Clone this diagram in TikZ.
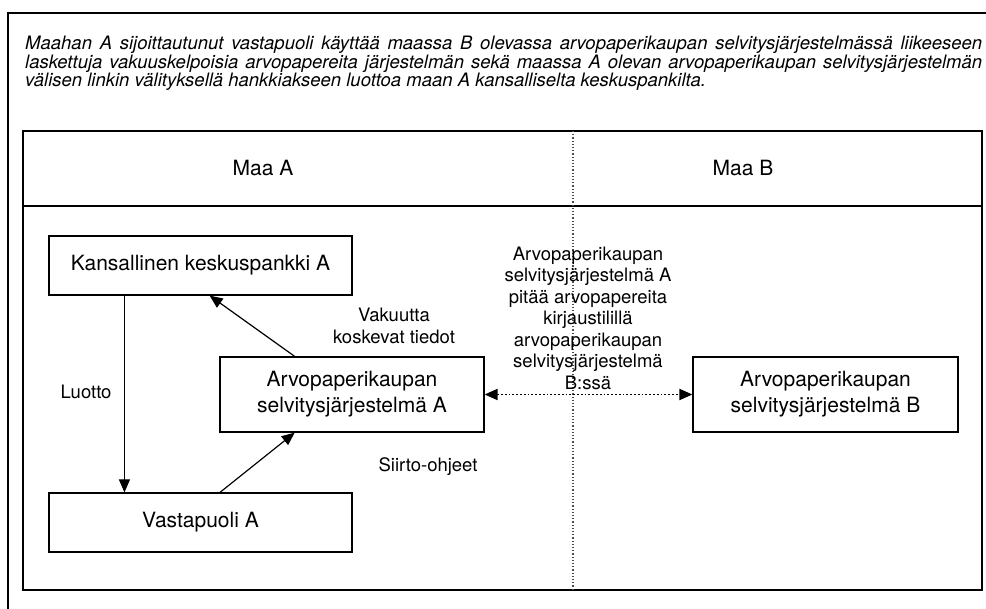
\documentclass[tikz,border=0pt]{standalone}
\usepackage{fontspec}
\setmainfont{TeX Gyre Heros}
\usetikzlibrary{arrows.meta,calc}

\tikzstyle{frameline}=[line width=1.2]
\tikzstyle{box}=[draw, line width=1.2, align=center, inner sep=0, font=\fontsize{21}{26}\selectfont]
\tikzstyle{note}=[align=center, inner sep=0, font=\fontsize{18.5}{21.5}\selectfont]
\tikzstyle{arrowline}=[line width=1.2, -{Triangle[length=13,width=11]}]
\tikzstyle{linkline}=[line width=1.8, dotted, {Triangle[length=13,width=11]}-{Triangle[length=13,width=11]}]
\newcommand{\drawcountries}{
  \draw[frameline] (23,131) rectangle (982,590);
  \draw[frameline] (23,206) -- (982,206);
  \coordinate (bordertop) at (573,131);
  \coordinate (borderbot) at (573,590);
  \draw[line width=1.2, dotted, black!70] (bordertop) -- (borderbot);
  \node[font=\fontsize{21}{26}\selectfont] (maaA) at (263,168) {Maa A};
  \node[font=\fontsize{21}{26}\selectfont] (maaB) at (743,168) {Maa B};
}

\begin{document}
\begin{tikzpicture}[x=1pt, y=-1pt]
  \useasboundingbox (0,0) rectangle (986,609);
  % outer frame and caption
  \draw[frameline] (8,609) -- (8,13) -- (986,13);
  \node[anchor=north west, text width=957, align=justify, inner sep=0, font=\fontsize{18.5}{17.5}\selectfont\itshape] (intro) at (25,36)
    {Maahan A sijoittautunut vastapuoli käyttää maassa B olevassa arvopaperikaupan selvitysjärjestelmässä liikeeseen\linebreak
     laskettuja vakuuskelpoisia arvopapereita järjestelmän sekä maassa A olevan arvopaperikaupan selvitysjärjestelmän\linebreak
     välisen linkin välityksellä hankkiakseen luottoa maan A kansalliselta keskuspankilta.};
  \drawcountries
  \node[box, minimum width=303, minimum height=59] (bank) at (200.5,265.5) {Kansallinen keskuspankki A};
  \node[box, minimum width=303, minimum height=59] (party) at (200.5,522.5) {Vastapuoli A};
  \node[box, minimum width=264, minimum height=75] (sysA) at (352,394.5) {Arvopaperikaupan\\selvitysjärjestelmä A};
  \node[box, minimum width=265, minimum height=75] (sysB) at (825.5,394.5) {Arvopaperikaupan\\selvitysjärjestelmä B};
  \draw[arrowline] ($(bank.south west)!0.25!(bank.south east)$) -- ($(party.north west)!0.25!(party.north east)$);
  \draw[arrowline] ($(sysA.north west)!0.284!(sysA.north east)$) -- ($(bank.south west)!0.53!(bank.south east)$);
  \draw[arrowline] ($(party.north west)!0.564!(party.north east)$) -- ($(sysA.south west)!0.284!(sysA.south east)$);
  \draw[linkline] (sysA.east) -- (sysB.west);
  \node[note] (luotto) at (86,392) {Luotto};
  \node[note] (vakuus) at (394,326) {Vakuutta\\koskevat tiedot};
  \node[note] (siirto) at (428,467) {Siirto-ohjeet};
  \node[note] (hold) at (588,318) {Arvopaperikaupan\\selvitysjärjestelmä A\\pitää arvopapereita\\kirjaustilillä\\arvopaperikaupan\\selvitysjärjestelmä\\B:ssä};
\end{tikzpicture}
\end{document}
